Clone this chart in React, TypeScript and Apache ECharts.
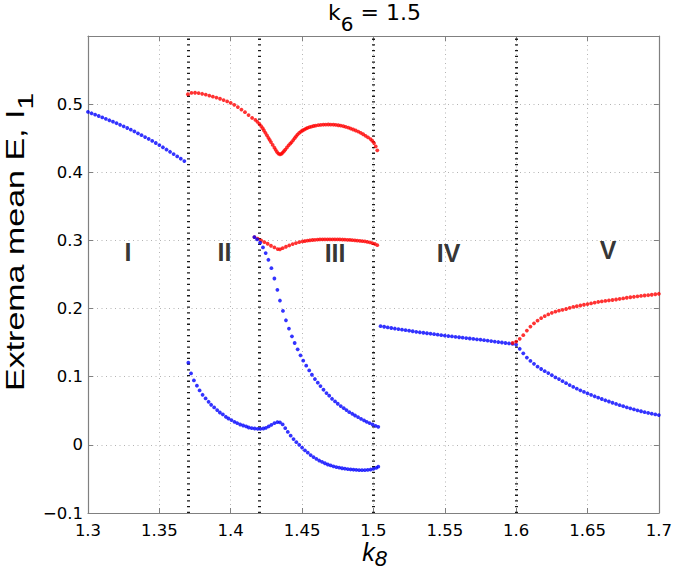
import React, { useEffect, useRef } from "react";
import * as echarts from "echarts";

// ---- data: [k8, extremum] ----
const blueI: number[][] = [
  [1.3, 0.4886], [1.3025, 0.4866], [1.305, 0.4846], [1.3075, 0.4826], [1.31, 0.4805], [1.3125, 0.4784],
  [1.315, 0.4763], [1.3175, 0.4742], [1.32, 0.472], [1.3225, 0.4697], [1.325, 0.4674], [1.3275, 0.465],
  [1.33, 0.4625], [1.3325, 0.4599], [1.335, 0.4572], [1.3375, 0.4545], [1.34, 0.4517], [1.3425, 0.4489],
  [1.345, 0.446], [1.3475, 0.443], [1.35, 0.4399], [1.3525, 0.4367], [1.355, 0.4334], [1.3575, 0.4301],
  [1.36, 0.4267], [1.3625, 0.4233], [1.365, 0.4199], [1.3675, 0.4164],
];

const redII: number[][] = [
  [1.37, 0.5145], [1.3725, 0.5165], [1.375, 0.5167], [1.3775, 0.5162], [1.38, 0.5152], [1.3825, 0.514],
  [1.385, 0.5125], [1.3875, 0.511], [1.39, 0.5096], [1.3925, 0.5079], [1.395, 0.506], [1.3975, 0.504],
  [1.4, 0.5018], [1.4025, 0.499], [1.405, 0.4957], [1.4075, 0.492], [1.41, 0.4882], [1.4125, 0.484],
  [1.415, 0.4797],
];

const redIIITop: number[][] = [
  [1.4173, 0.4768], [1.4187, 0.474], [1.4201, 0.4709], [1.4213, 0.4678], [1.4224, 0.4646], [1.4233, 0.4613],
  [1.4243, 0.4579], [1.4254, 0.4543], [1.4264, 0.4506], [1.4273, 0.4475], [1.4282, 0.4443], [1.4294, 0.4402],
  [1.4306, 0.4361], [1.4315, 0.433], [1.4324, 0.4298], [1.4334, 0.4275], [1.4345, 0.4264], [1.4355, 0.427],
  [1.4364, 0.4288], [1.4373, 0.431], [1.4382, 0.4332], [1.4394, 0.4364], [1.4406, 0.4395], [1.4417, 0.442],
  [1.4427, 0.4443], [1.4438, 0.4473], [1.4448, 0.4501], [1.4458, 0.4528], [1.4468, 0.4554], [1.448, 0.4577],
  [1.4492, 0.4598], [1.4503, 0.4613], [1.4515, 0.4627], [1.4527, 0.464], [1.4538, 0.4651], [1.4552, 0.4662],
  [1.4566, 0.4671], [1.4581, 0.4679], [1.4596, 0.4685], [1.4614, 0.4691], [1.4631, 0.4695], [1.4649, 0.4698],
  [1.4666, 0.47], [1.4684, 0.4701], [1.4701, 0.47], [1.4719, 0.4698], [1.4736, 0.4695], [1.4754, 0.469],
  [1.4771, 0.4685], [1.4789, 0.4676], [1.4806, 0.4666], [1.4824, 0.4655], [1.4841, 0.4642], [1.4858, 0.4628],
  [1.4876, 0.4613], [1.4894, 0.4597], [1.4911, 0.4579], [1.4928, 0.4558], [1.4945, 0.4535], [1.4962, 0.4512],
  [1.498, 0.4487], [1.4992, 0.446], [1.5004, 0.4429], [1.5016, 0.438], [1.5027, 0.4322],
];

const redIIIMid: number[][] = [
  [1.4166, 0.3049], [1.4189, 0.3025], [1.4213, 0.3], [1.4236, 0.2975], [1.4259, 0.2951], [1.4282, 0.2922],
  [1.4306, 0.2897], [1.4329, 0.2873], [1.4345, 0.287], [1.4364, 0.2887], [1.4387, 0.2907], [1.441, 0.2926],
  [1.4434, 0.2946], [1.4457, 0.2961], [1.448, 0.2975], [1.4503, 0.2985], [1.452, 0.2991], [1.4538, 0.2997],
  [1.4555, 0.3002], [1.4573, 0.3006], [1.459, 0.3009], [1.4608, 0.3012], [1.4625, 0.3014], [1.4643, 0.3015],
  [1.466, 0.3016], [1.4678, 0.3016], [1.4695, 0.3016], [1.4713, 0.3016], [1.473, 0.3016], [1.4748, 0.3015],
  [1.4765, 0.3014], [1.4783, 0.3013], [1.48, 0.3011], [1.4818, 0.3009], [1.4835, 0.3007], [1.4852, 0.3004],
  [1.487, 0.3001], [1.4887, 0.2998], [1.4905, 0.2994], [1.4922, 0.299], [1.494, 0.2985], [1.4957, 0.2979],
  [1.4975, 0.2971], [1.4992, 0.2961], [1.501, 0.2948], [1.5027, 0.2931],
];

const blueIIISteep: number[][] = [
  [1.4166, 0.3049], [1.4185, 0.3015], [1.4206, 0.2966], [1.4226, 0.2897], [1.4245, 0.2814], [1.4264, 0.2716],
  [1.4285, 0.2593], [1.4306, 0.2441], [1.4327, 0.2275], [1.4345, 0.2118], [1.4366, 0.1966], [1.4387, 0.1828],
  [1.4408, 0.1706], [1.4429, 0.1593], [1.4448, 0.1495], [1.4469, 0.1402], [1.4489, 0.1314], [1.4508, 0.1235],
  [1.4529, 0.1162], [1.455, 0.1093], [1.4569, 0.1029], [1.459, 0.0966], [1.461, 0.0912], [1.4629, 0.0863],
  [1.465, 0.0809], [1.4671, 0.076], [1.469, 0.0721], [1.471, 0.0676], [1.4731, 0.0637], [1.475, 0.0603],
  [1.4771, 0.0569], [1.4792, 0.0539], [1.4811, 0.051], [1.4831, 0.048], [1.4852, 0.0456], [1.4871, 0.0431],
  [1.4892, 0.0407], [1.4913, 0.0382], [1.4934, 0.0358], [1.4953, 0.0338], [1.4973, 0.0319], [1.4994, 0.0299],
  [1.5015, 0.0279], [1.5034, 0.0265],
];

const blueLow: number[][] = [
  [1.3703, 0.1206], [1.3722, 0.1049], [1.3742, 0.0946], [1.3763, 0.0868], [1.3782, 0.0799], [1.3803, 0.0735],
  [1.3824, 0.0681], [1.3845, 0.0632], [1.3863, 0.0588], [1.3884, 0.0549], [1.3905, 0.051], [1.3924, 0.0475],
  [1.3945, 0.0446], [1.3966, 0.0412], [1.3984, 0.0387], [1.4005, 0.0363], [1.4026, 0.0338], [1.4045, 0.0319],
  [1.4066, 0.0299], [1.4087, 0.0284], [1.4108, 0.027], [1.4126, 0.0255], [1.4147, 0.0245], [1.4168, 0.024],
  [1.4189, 0.0235], [1.4208, 0.0235], [1.4229, 0.024], [1.4247, 0.025], [1.4266, 0.027], [1.4285, 0.0294],
  [1.4306, 0.0318], [1.4327, 0.0333], [1.4345, 0.033], [1.4364, 0.03], [1.4382, 0.0245], [1.44, 0.019],
  [1.442, 0.0135], [1.444, 0.0085], [1.446, 0.004], [1.448, 0.0], [1.45, -0.004], [1.452, -0.008],
  [1.454, -0.0115], [1.456, -0.015], [1.458, -0.018], [1.46, -0.0205], [1.462, -0.023], [1.464, -0.025],
  [1.466, -0.027], [1.468, -0.0288], [1.47, -0.0302], [1.472, -0.0315], [1.474, -0.0326], [1.476, -0.0335],
  [1.478, -0.0343], [1.48, -0.035], [1.482, -0.0356], [1.484, -0.0361], [1.486, -0.0365], [1.488, -0.0368],
  [1.49, -0.037], [1.492, -0.0371], [1.494, -0.037], [1.496, -0.0368], [1.498, -0.0362], [1.5, -0.0352],
  [1.502, -0.0338], [1.5034, -0.032],
];

const blueIV: number[][] = [
  [1.505, 0.1742], [1.5075, 0.1733], [1.51, 0.1724], [1.5125, 0.1715], [1.515, 0.1707], [1.5175, 0.1699],
  [1.52, 0.1691], [1.5225, 0.1683], [1.525, 0.1675], [1.5275, 0.1667], [1.53, 0.1659], [1.5325, 0.1652],
  [1.535, 0.1645], [1.5375, 0.1638], [1.54, 0.1631], [1.5425, 0.1624], [1.545, 0.1617], [1.5475, 0.161],
  [1.55, 0.1603], [1.5525, 0.1597], [1.555, 0.1591], [1.5575, 0.1585], [1.56, 0.1579], [1.5625, 0.1573],
  [1.565, 0.1567], [1.5675, 0.1561], [1.57, 0.1555], [1.5725, 0.1549], [1.575, 0.1543], [1.5775, 0.1536],
  [1.58, 0.153], [1.5825, 0.1523], [1.585, 0.1516], [1.5875, 0.1509], [1.59, 0.1502], [1.5925, 0.1495],
  [1.595, 0.1488], [1.5975, 0.1481],
];

const redV: number[][] = [
  [1.5975, 0.1495], [1.6, 0.1515], [1.6025, 0.1556], [1.605, 0.161], [1.6075, 0.1677], [1.61, 0.1736],
  [1.6125, 0.1783], [1.615, 0.1823], [1.6175, 0.1859], [1.62, 0.1888], [1.6225, 0.1914], [1.625, 0.1937],
  [1.6275, 0.1955], [1.63, 0.1969], [1.6325, 0.1982], [1.635, 0.1994], [1.6375, 0.201], [1.64, 0.2024],
  [1.6425, 0.2034], [1.645, 0.2045], [1.6475, 0.2056], [1.65, 0.2066], [1.6525, 0.2076], [1.655, 0.2087],
  [1.6575, 0.2097], [1.66, 0.2105], [1.6625, 0.2112], [1.665, 0.2119], [1.6675, 0.2126], [1.67, 0.2133],
  [1.6725, 0.2141], [1.675, 0.2149], [1.6775, 0.2159], [1.68, 0.2166], [1.6825, 0.2173], [1.685, 0.2179],
  [1.6875, 0.2186], [1.69, 0.2192], [1.6925, 0.2196], [1.695, 0.2203], [1.6975, 0.221], [1.7, 0.2217],
];

const blueV: number[][] = [
  [1.6, 0.1472], [1.6025, 0.141], [1.605, 0.1343], [1.6075, 0.1281], [1.61, 0.1232], [1.6125, 0.1189],
  [1.615, 0.1148], [1.6175, 0.1113], [1.62, 0.1081], [1.6225, 0.1053], [1.625, 0.1022], [1.6275, 0.099],
  [1.63, 0.0965], [1.6325, 0.0935], [1.635, 0.0905], [1.6375, 0.0877], [1.64, 0.085], [1.6425, 0.0825],
  [1.645, 0.08], [1.6475, 0.0777], [1.65, 0.0755], [1.6525, 0.0734], [1.655, 0.0713], [1.6575, 0.0693],
  [1.66, 0.0673], [1.6625, 0.0654], [1.665, 0.0636], [1.6675, 0.0618], [1.67, 0.06], [1.6725, 0.0583],
  [1.675, 0.0567], [1.6775, 0.0551], [1.68, 0.0536], [1.6825, 0.0521], [1.685, 0.0507], [1.6875, 0.0493],
  [1.69, 0.048], [1.6925, 0.0468], [1.695, 0.0457], [1.6975, 0.0447], [1.7, 0.0437],
];

// region boundaries (k8) drawn as dotted vertical lines
const boundaries: number[] = [1.3685, 1.4165, 1.5035, 1.5995];

// region labels: [k8, value, text]
const regionLabels: (number | string)[][] = [
  [1.328, 0.283, "I"],
  [1.3956, 0.283, "II"],
  [1.4731, 0.2815, "III"],
  [1.5527, 0.2815, "IV"],
  [1.6644, 0.286, "V"],
];

const X_MIN = 1.3, X_MAX = 1.7, X_STEP = 0.05;
const Y_MIN = -0.1, Y_MAX = 0.6, Y_STEP = 0.1;

const FONT = "'DejaVu Sans', 'Liberation Sans', Arial, sans-serif";
const HELV = "'Liberation Sans', Arial, Helvetica, sans-serif";
const BLUE = "#0000ff";
const RED = "#ff0000";
const AXIS_GRAY = "#808080";

// rich text styles giving a lowered subscript
const subRich = (font: string, main: number, sub: number, drop: number, mainLH: number, italic = false) => ({
  m: {
    fontSize: main, fontFamily: font, fontStyle: italic ? "italic" : "normal",
    fill: "#000", color: "#000", verticalAlign: "top", lineHeight: mainLH,
  },
  s: {
    fontSize: sub, fontFamily: font, fontStyle: italic ? "italic" : "normal",
    fill: "#000", color: "#000", verticalAlign: "middle", lineHeight: 2 * (mainLH / 2 + drop),
  },
});

export default function App() {
  const ref = useRef<HTMLDivElement>(null);
  useEffect(() => {
    document.body.style.margin = "0";
    const chart = echarts.init(ref.current!, undefined, { renderer: "svg" });

    const dots = (data: number[][], color: string) => ({
      type: "scatter",
      data,
      symbol: "circle",
      symbolSize: 3.8,
      itemStyle: { color },
      z: 5,
      silent: true,
    });

    const xBase = {
      type: "value",
      min: X_MIN,
      max: X_MAX,
      interval: X_STEP,
      axisLine: { show: true, onZero: false, lineStyle: { color: AXIS_GRAY, width: 1.2 } },
      axisTick: { show: true, inside: true, length: 5, lineStyle: { color: AXIS_GRAY } },
    };
    const yBase = {
      type: "value",
      min: Y_MIN,
      max: Y_MAX,
      interval: Y_STEP,
      axisLine: { show: true, onZero: false, lineStyle: { color: AXIS_GRAY, width: 1.2 } },
      axisTick: { show: true, inside: true, length: 5, lineStyle: { color: AXIS_GRAY } },
    };
    const gridLine = { show: true, lineStyle: { color: "#b4b4b4", type: [1, 3.5], width: 1 } };

    const option: any = {
      animation: false,
      backgroundColor: "#ffffff",
      textStyle: { fontFamily: FONT },
      grid: { left: 88, right: 14, top: 36, bottom: 64, containLabel: false },
      graphic: [
        {
          // title  k_6 = 1.5
          type: "text",
          x: 374.5,
          y: 1,
          silent: true,
          style: {
            text: "{m|k}{s|6}{m| = 1.5}",
            align: "center",
            textAlign: "center",
            verticalAlign: "top",
            textVerticalAlign: "top",
            fill: "#000",
            rich: subRich(FONT, 22, 20, 10, 26),
          },
        },
        {
          // x label  k_8
          type: "text",
          x: 374.5,
          y: 539,
          silent: true,
          style: {
            text: "{m|k}{s|8}",
            align: "center",
            textAlign: "center",
            verticalAlign: "top",
            textVerticalAlign: "top",
            fill: "#000",
            rich: subRich(HELV, 25, 22, 8, 22, true),
          },
        },
        {
          // y label  Extrema mean E, I_1
          type: "text",
          x: 25,
          y: 242,
          rotation: Math.PI / 2,
          scaleX: 1.36,
          scaleY: 1,
          silent: true,
          style: {
            text: "{m|Extrema mean E, I}{s|1}",
            align: "center",
            textAlign: "center",
            verticalAlign: "middle",
            textVerticalAlign: "middle",
            fill: "#000",
            rich: subRich(HELV, 25, 22, 10, 24),
          },
        },
      ],
      xAxis: [
        {
          ...xBase,
          position: "bottom",
          splitLine: gridLine,
          axisLabel: {
            show: true,
            margin: 9,
            fontSize: 16.5,
            lineHeight: 16,
            color: "#000",
            fontFamily: FONT,
            formatter: (v: number) => String(parseFloat(v.toFixed(2))),
          },
        },
        {
          ...xBase,
          position: "top",
          splitLine: { show: false },
          axisLabel: { show: false },
        },
      ],
      yAxis: [
        {
          ...yBase,
          position: "left",
          splitLine: gridLine,
          axisLabel: {
            show: true,
            margin: 5,
            fontSize: 16.5,
            color: "#000",
            fontFamily: FONT,
            formatter: (v: number) => {
              if (v > 0.55) return "";
              const r = parseFloat(v.toFixed(2));
              return r < 0 ? "\u2212" + String(-r) : String(r);
            },
          },
        },
        {
          ...yBase,
          position: "right",
          splitLine: { show: false },
          axisLabel: { show: false },
        },
      ],
      series: [
        {
          type: "line",
          data: [],
          silent: true,
          z: 2,
          markLine: {
            silent: true,
            symbol: ["none", "none"],
            label: { show: false },
            lineStyle: { color: "#1a1a1a", width: 3, type: [1.3, 4.4] },
            data: boundaries.map((b) => ({ xAxis: b })),
          },
        },
        dots(blueI, BLUE),
        dots(redII, RED),
        dots(blueLow, BLUE),
        dots(redIIITop, RED),
        dots(redIIIMid, RED),
        dots(blueIIISteep, BLUE),
        dots(blueIV, BLUE),
        dots(blueV, BLUE),
        dots(redV, RED),
        {
          type: "scatter",
          data: regionLabels,
          symbolSize: 0,
          silent: true,
          z: 6,
          label: {
            show: true,
            position: "inside",
            formatter: (p: any) => p.data[2],
            fontSize: 25,
            fontWeight: "bold",
            fontFamily: HELV,
            color: "#000",
          },
        },
      ],
    };
    chart.setOption(option);
    return () => chart.dispose();
  }, []);
  return <div ref={ref} style={{ width: 675, height: 577 }} />;
}
